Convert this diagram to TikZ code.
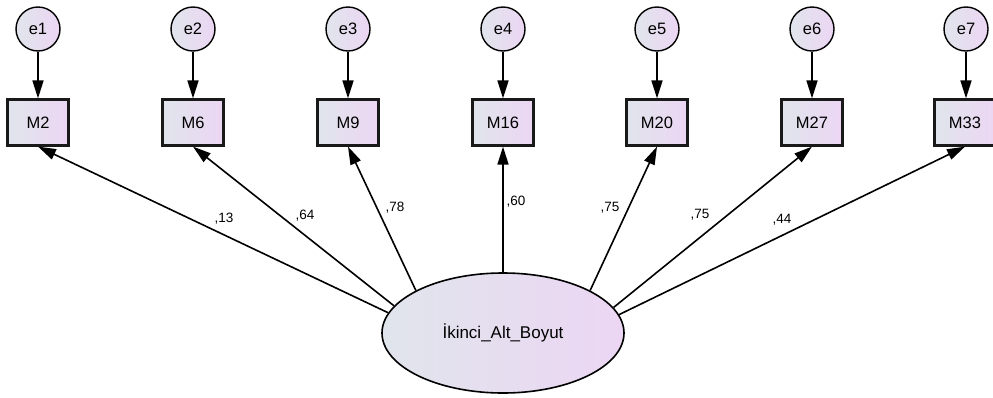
\documentclass[tikz,border=0pt]{standalone}
\usepackage{fontspec}
\setmainfont{Liberation Sans}
\usetikzlibrary{arrows.meta,shapes.geometric}

\definecolor{fillleft}{RGB}{224,229,236}
\definecolor{fillright}{RGB}{236,214,243}

\begin{document}
\begin{tikzpicture}[x=1pt,y=-1pt,->,>={Triangle[length=18pt,width=11pt]},line width=1.6pt,
       err node/.style={circle,draw,line width=1.4pt,minimum size=44pt,inner sep=0pt,
         left color=fillleft,right color=fillright,font=\fontsize{16.5}{18}\selectfont},
       obs node/.style={rectangle,draw=black!90,line width=2.2pt,minimum width=61pt,
         minimum height=46pt,inner sep=0pt,left color=fillleft,right color=fillright,
         font=\fontsize{16.5}{18}\selectfont},
       lat node/.style={ellipse,draw,line width=1.6pt,minimum width=242pt,minimum height=120pt,
         inner sep=0pt,left color=fillleft,right color=fillright,font=\fontsize{17}{20}\selectfont},
       load/.style={font=\fontsize{13.5}{15}\selectfont,inner sep=0pt}]

      \useasboundingbox (0,0) rectangle (993,397);

      \node[err node] at (38,29) (e1) {e1};
      \node[err node] at (193,29) (e2) {e2};
      \node[err node] at (348,29) (e3) {e3};
      \node[err node] at (503,29) (e4) {e4};
      \node[err node] at (657,29) (e5) {e5};
      \node[err node] at (812,29) (e6) {e6};
      \node[err node] at (966,29) (e7) {e7};

      \node[obs node] at (38,122.5) (M2) {M2};
      \node[obs node] at (193,122.5) (M6) {M6};
      \node[obs node] at (348,122.5) (M9) {M9};
      \node[obs node] at (503,122.5) (M16) {M16};
      \node[obs node] at (657,122.5) (M20) {M20};
      \node[obs node] at (812,122.5) (M27) {M27};
      \node[obs node] at (965,122.5) (M33) {M33};

      \node[lat node] at (503,333) (lat) {İkinci\_Alt\_Boyut};

      \path
      (e1) edge (M2)
      (e2) edge (M6)
      (e3) edge (M9)
      (e4) edge (M16)
      (e5) edge (M20)
      (e6) edge (M27)
      (e7) edge (e7 |- M33.north)
      ;
      \path
      (lat.170.6) edge (M2.south)
      (lat.166.7) edge (M6.south)
      (lat.154) edge (M9.south)
      (lat.north) edge (M16.south)
      (lat.26.3) edge (M20.south)
      (lat.13.9) edge (M27.south)
      (lat.9.9) edge (M33.south)
      ;

      \node[load] at (224,219) (w2) {,13};
      \node[load] at (305,216) (w6) {,64};
      \node[load] at (395,208) (w9) {,78};
      \node[load] at (516,202) (w16) {,60};
      \node[load] at (610,208) (w20) {,75};
      \node[load] at (700,215) (w27) {,75};
      \node[load] at (782,220) (w33) {,44};

    \end{tikzpicture}
\end{document}
